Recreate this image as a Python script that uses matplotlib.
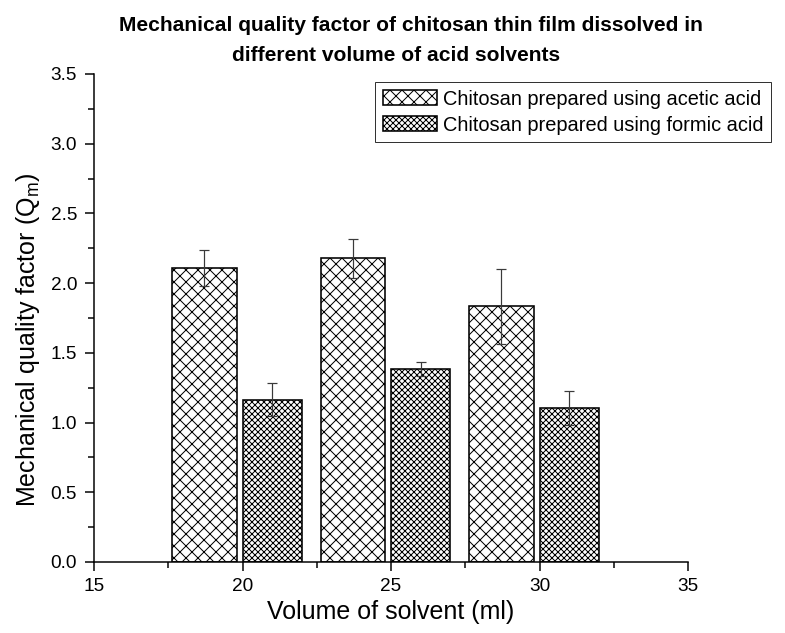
import numpy as np
import matplotlib
matplotlib.use("Agg")
import matplotlib.pyplot as plt

plt.rcParams['font.family'] = ['Liberation Sans', 'DejaVu Sans']
plt.rcParams['mathtext.default'] = 'regular'
plt.rcParams['hatch.linewidth'] = 1.0

volumes = [20, 25, 30]
acetic = [2.11, 2.18, 1.835]
acetic_err = [0.13, 0.14, 0.27]
formic = [1.165, 1.385, 1.105]
formic_err = [0.12, 0.05, 0.125]
labels = ["Chitosan prepared using acetic acid", "Chitosan prepared using formic acid"]

W, H = 785, 633
# dpi 72 -> 1 pt = 1 px, hatch spacing close to the original
fig = plt.figure(figsize=(W / 72, H / 72), dpi=72)
ax = fig.add_axes([94 / W, 1 - 562 / H, (688 - 94) / W, (562 - 74) / H])

x = np.array(volumes, dtype=float)
ax.bar(x - 1.28, acetic, width=2.17, color='white', edgecolor='black', linewidth=1.6,
       hatch='xx', label=labels[0])
ax.bar(x + 1.0, formic, width=2.0, color='white', edgecolor='black', linewidth=1.6,
       hatch='xxxx', label=labels[1])
ax.errorbar(x - 1.28, acetic, yerr=acetic_err, fmt='none', ecolor='#3a3a3a',
            elinewidth=1.2, capsize=5, capthick=1.2)
ax.errorbar(x + 1.0, formic, yerr=formic_err, fmt='none', ecolor='#3a3a3a',
            elinewidth=1.2, capsize=5, capthick=1.2)

ax.set_xlim(15, 35)
ax.set_ylim(0, 3.5)
ax.set_xticks([15, 20, 25, 30, 35])
ax.set_xticks([17.5, 22.5, 27.5, 32.5], minor=True)
ax.set_yticks(np.arange(0, 3.51, 0.5))
ax.set_yticks(np.arange(0.25, 3.5, 0.5), minor=True)
ax.yaxis.set_major_formatter(matplotlib.ticker.FormatStrFormatter('%.1f'))
ax.tick_params(which='major', direction='out', length=9, width=1.5, labelsize=19)
ax.tick_params(which='minor', direction='out', length=6, width=1.5)
ax.tick_params(axis='y', pad=8)
ax.tick_params(axis='x', pad=7)
for s in ['top', 'right']:
    ax.spines[s].set_visible(False)
for s in ['left', 'bottom']:
    ax.spines[s].set_linewidth(1.5)

ax.set_xlabel("Volume of solvent (ml)", fontsize=25)
ax.set_ylabel("Mechanical quality factor (Q$_m$)", fontsize=25)
ax.xaxis.set_label_coords(0.5, -(600 - 562) / 488)
ax.yaxis.set_label_coords(-(94 - 42) / 594, (562 - 340) / 488)

fig.text(411 / W, 1 - 31 / H, "Mechanical quality factor of chitosan thin film dissolved in",
         ha='center', va='baseline', fontsize=21, fontweight='bold')
fig.text(396 / W, 1 - 61 / H, "different volume of acid solvents",
         ha='center', va='baseline', fontsize=21, fontweight='bold')

leg = ax.legend(loc='upper left', bbox_to_anchor=((375 - 94) / 594, 1 - (82 - 74) / 488),
                fontsize=20, frameon=True, fancybox=False, edgecolor='black',
                handlelength=2.7, handleheight=0.75, handletextpad=0.3, borderpad=0.38,
                labelspacing=0.35, borderaxespad=0)
leg.get_frame().set_linewidth(1.0)

fig.savefig("out.png", dpi=72)
